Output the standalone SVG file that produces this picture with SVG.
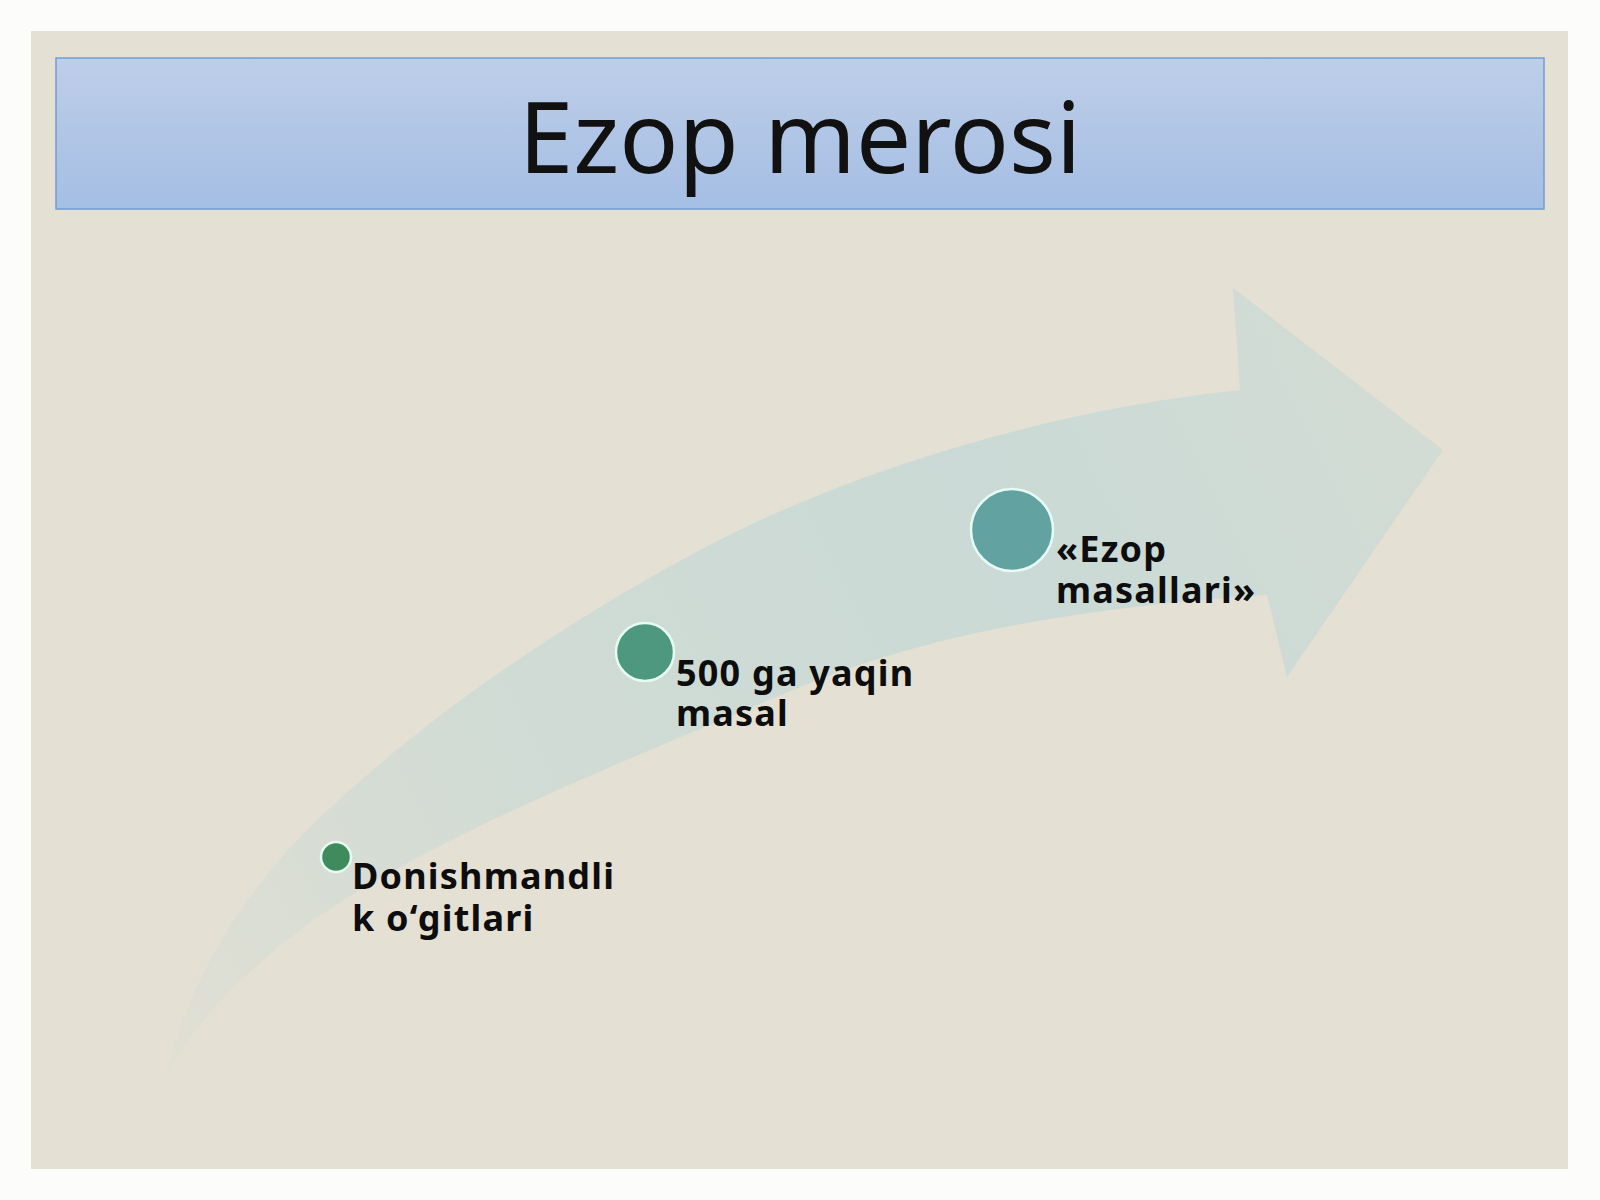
<svg xmlns="http://www.w3.org/2000/svg" width="1600" height="1200" viewBox="0 0 1600 1200">
  <defs>
    <linearGradient id="titleGrad" x1="0" y1="0" x2="0" y2="1">
      <stop offset="0" stop-color="#bdcee8"/>
      <stop offset="1" stop-color="#a5bee4"/>
    </linearGradient>
    <linearGradient id="arrowGrad" gradientUnits="userSpaceOnUse" x1="168" y1="1072" x2="1443" y2="450">
      <stop offset="0" stop-color="#c4d8d6" stop-opacity="0.12"/>
      <stop offset="0.3" stop-color="#c4d8d6" stop-opacity="0.6"/>
      <stop offset="0.7" stop-color="#c4d8d6" stop-opacity="0.8"/>
      <stop offset="1" stop-color="#c4d8d6" stop-opacity="0.55"/>
    </linearGradient>
    <style>
      .lbl { font-family: "Noto Sans", "Open Sans", "DejaVu Sans", sans-serif; font-weight: bold; font-size: 36px; letter-spacing: 1.2px; fill: #0d0d0d; }
      .dot { stroke: #e6fbf4; stroke-width: 2.5; }
    </style>
  </defs>

  <rect x="0" y="0" width="1600" height="1200" fill="#fcfcfb"/>
  <rect x="31" y="31" width="1537" height="1138" fill="#e4e0d3"/>

  <g id="title">
    <rect x="56" y="58" width="1488" height="151" fill="url(#titleGrad)" stroke="#6f9dd2" stroke-width="1.5"/>
    <text x="800" y="173" text-anchor="middle" font-family="'Noto Sans', 'Open Sans', sans-serif" font-size="98" fill="#111111">Ezop merosi</text>
  </g>

  <g id="arrow">
    <path d="M168,1072 C185,990 240,890 330,808 C430,715 560,625 700,550 C850,470 1050,410 1240,390 L1233,288 L1443,450 L1287,677 L1267,595 C1120,605 950,625 800,687 C640,755 420,840 300,930 C240,975 190,1030 168,1072 Z" fill="url(#arrowGrad)"/>
  </g>

  <g id="node1">
    <circle class="dot" cx="336" cy="857" r="15" fill="#3f8b5b"/>
    <text class="lbl" x="352" y="889">Donishmandli</text>
    <text class="lbl" x="352" y="931">k o‘gitlari</text>
  </g>

  <g id="node2">
    <circle class="dot" cx="645" cy="652" r="29" fill="#4e987f"/>
    <text class="lbl" x="676" y="686">500 ga yaqin</text>
    <text class="lbl" x="676" y="726">masal</text>
  </g>

  <g id="node3">
    <circle class="dot" cx="1012" cy="530" r="41" fill="#62a3a1"/>
    <text class="lbl" x="1056" y="562">«Ezop</text>
    <text class="lbl" x="1056" y="603">masallari»</text>
  </g>
</svg>
